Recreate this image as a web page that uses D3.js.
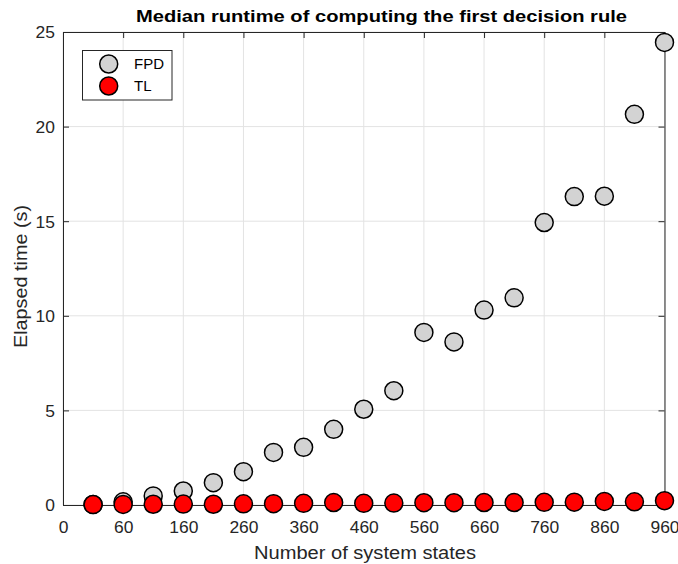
<!DOCTYPE html>
<html>
<head>
<meta charset="utf-8">
<script src="https://cdn.jsdelivr.net/npm/d3@7"></script>
<style>
  html, body { margin: 0; padding: 0; background: #fff; }
  svg { display: block; font-family: "Liberation Sans", Arial, sans-serif; }
</style>
</head>
<body>
<svg id="chart" width="678" height="564"></svg>
<script>
// ---- data ----
const states = [10, 60, 110, 160, 210, 260, 310, 360, 410, 460, 510, 560, 610, 660, 710, 760, 810, 860, 910, 960];
const fpd = [0.03, 0.17, 0.48, 0.74, 1.18, 1.76, 2.78, 3.05, 4.0, 5.06, 6.04, 9.12, 8.62, 10.3, 10.95, 14.93, 16.3, 16.32, 20.65, 24.45];
const tl  = [0.02, 0.03, 0.04, 0.05, 0.04, 0.06, 0.07, 0.09, 0.13, 0.09, 0.1, 0.12, 0.12, 0.13, 0.13, 0.14, 0.15, 0.19, 0.17, 0.23];
const xTickValues = [-40, 60, 160, 260, 360, 460, 560, 660, 760, 860, 960];
const xTickLabels = ["0", "60", "160", "260", "360", "460", "560", "660", "760", "860", "960"];
const yTickValues = [0, 5, 10, 15, 20, 25];
const seriesNames = ["FPD", "TL"];
const seriesColors = ["#d3d3d3", "#ff0000"];

// ---- layout ----
const L = 63, R = 664.5, T = 32, B = 505;
const svg = d3.select("#chart");
const x = d3.scaleLinear().domain([-40, 960]).range([L, R]);
const y = d3.scaleLinear().domain([0, 25]).range([B, T]);
const axisColor = "#262626";

// grid
const grid = svg.append("g");
grid.selectAll("line.vx").data(xTickValues).join("line")
  .attr("x1", d => x(d)).attr("x2", d => x(d)).attr("y1", T).attr("y2", B)
  .attr("stroke", "#e3e3e3").attr("stroke-width", 1);
grid.selectAll("line.hy").data(yTickValues).join("line")
  .attr("x1", L).attr("x2", R).attr("y1", d => y(d)).attr("y2", d => y(d))
  .attr("stroke", "#e3e3e3").attr("stroke-width", 1);

// axes
const fmtX = (d, i) => xTickLabels[i];
const xAxis = svg.append("g").attr("transform", `translate(0,${B})`)
  .call(d3.axisBottom(x).tickValues(xTickValues).tickFormat(fmtX).tickSizeInner(-6).tickSizeOuter(0).tickPadding(13));
const xTop = svg.append("g").attr("transform", `translate(0,${T})`)
  .call(d3.axisTop(x).tickValues(xTickValues).tickFormat("").tickSizeInner(-6).tickSizeOuter(0));
const yAxis = svg.append("g").attr("transform", `translate(${L},0)`)
  .call(d3.axisLeft(y).tickValues(yTickValues).tickSizeInner(-6).tickSizeOuter(0).tickPadding(13));
const yRight = svg.append("g").attr("transform", `translate(${R},0)`)
  .call(d3.axisRight(y).tickValues(yTickValues).tickFormat("").tickSizeInner(-6).tickSizeOuter(0));

[xAxis, xTop, yAxis, yRight].forEach(g => {
  g.select(".domain").attr("stroke", axisColor).attr("stroke-width", 1);
  g.selectAll(".tick line").attr("stroke", axisColor).attr("stroke-width", 1);
  g.selectAll(".tick text").attr("fill", axisColor).attr("font-size", 16.3)
   .attr("font-family", "'Liberation Sans', Arial, sans-serif")
   .attr("lengthAdjust", "spacingAndGlyphs")
   .attr("textLength", function () { return this.textContent.length * 9.7; });
});
xAxis.selectAll(".tick text").attr("dy", null).attr("y", 27.5);
yAxis.selectAll(".tick text").attr("x", -8).attr("dy", "0.36em");

// series
const series = [fpd, tl];
series.forEach((vals, si) => {
  svg.append("g").selectAll("circle").data(vals).join("circle")
    .attr("cx", (d, i) => x(states[i]))
    .attr("cy", d => y(d))
    .attr("r", 9)
    .attr("fill", seriesColors[si])
    .attr("stroke", "#000")
    .attr("stroke-width", 1.5);
});

// labels
svg.append("text").attr("x", 365).attr("y", 559)
  .attr("text-anchor", "middle").attr("font-size", 17.5).attr("fill", axisColor)
  .attr("textLength", 222).attr("lengthAdjust", "spacingAndGlyphs")
  .text("Number of system states");
svg.append("text").attr("transform", `translate(27,276.5) rotate(-90)`)
  .attr("text-anchor", "middle").attr("font-size", 17.5).attr("fill", axisColor)
  .attr("textLength", 143).attr("lengthAdjust", "spacingAndGlyphs")
  .text("Elapsed time (s)");
svg.append("text").attr("x", 381.5).attr("y", 21.5)
  .attr("text-anchor", "middle").attr("font-size", 16.8).attr("font-weight", "bold").attr("fill", "#000")
  .attr("textLength", 491).attr("lengthAdjust", "spacingAndGlyphs")
  .text("Median runtime of computing the first decision rule");

// legend
const lg = svg.append("g");
lg.append("rect").attr("x", 82.5).attr("y", 50.5).attr("width", 89.5).attr("height", 49.5)
  .attr("fill", "#fff").attr("stroke", axisColor).attr("stroke-width", 1);
seriesNames.forEach((name, i) => {
  const cy = 64 + i * 22;
  lg.append("circle").attr("cx", 108.7).attr("cy", cy).attr("r", 9)
    .attr("fill", seriesColors[i]).attr("stroke", "#000").attr("stroke-width", 1.5);
  lg.append("text").attr("x", 134).attr("y", cy).attr("dy", "0.36em")
    .attr("font-size", 15).attr("fill", "#000").text(name);
});
</script>
</body>
</html>
